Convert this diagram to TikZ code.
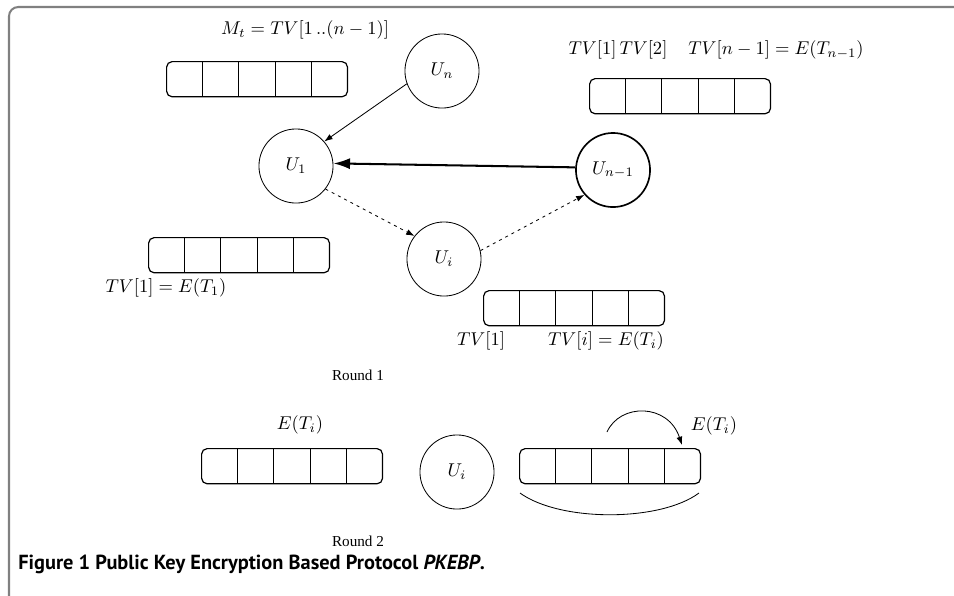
\documentclass[tikz,border=0pt]{standalone}
\usepackage{fontspec}
\newfontfamily\roundfont{Liberation Serif}
\newfontfamily\capfont{PT Sans}
\usetikzlibrary{arrows.meta,calc}
\tikzset{
  x=0.54pt, y=-0.54pt,
  frameline/.style={draw=black!50, line width=1.1pt, rounded corners=5pt},
  arrbox/.style={draw, rounded corners=3pt, line width=0.65pt, minimum width=97.7pt, minimum height=19pt, inner sep=0pt},
  arrsep/.style={line width=0.65pt},
  user/.style={draw, circle, line width=0.45pt, minimum size=40pt, inner sep=0pt, font=\normalsize},
  lbl/.style={inner sep=0pt, font=\normalsize},
  roundlbl/.style={inner sep=0pt, font=\roundfont\fontsize{8.2}{9}\selectfont},
  thinarrow/.style={line width=0.45pt, -{Latex[length=4.5pt,width=3.2pt]}},
  dasharrow/.style={line width=0.45pt, dash pattern=on 1.6pt off 2.2pt, -{Latex[length=4.5pt,width=3.2pt]}},
  thickarrow/.style={line width=1.1pt, -{Latex[length=9pt,width=6pt]}},
  arcline/.style={line width=0.45pt},
}
\newcommand\tvarray[3]{%
  \node[arrbox, anchor=north west] (#1) at (#2,#3) {};
  \foreach \k in {1,...,4}
    \draw[arrsep] ($(#1.north west)!\k/5!(#1.north east)$) -- ($(#1.south west)!\k/5!(#1.south east)$);
}
\begin{document}
\begin{tikzpicture}
\useasboundingbox (0,0) rectangle (954,595);
% frame
\draw[frameline] (9,600) -- (9,7) -- (960,7);

% Round 1 arrays
\tvarray{A1}{166}{61}
\tvarray{A2}{589}{78}
\tvarray{A3}{148}{237}
\tvarray{A4}{483}{290}

% labels round 1
\node[lbl] (l1) at (305,30) {$M_t = TV[1\,..(n-1)]$};
\node[lbl] (l2) at (618,50) {$TV[1]\,TV[2]$};
\node[lbl] (l3) at (776,50) {$TV[n-1] = E(T_{n-1})$};
\node[lbl] (l4) at (166,288) {$TV[1] = E(T_1)$};
\node[lbl] (l5) at (481,341) {$TV[1]$};
\node[lbl] (l6) at (606,341) {$TV[i] = E(T_i)$};

% users
\node[user] (Un) at (442,71) {$U_n$};
\node[user] (U1) at (296,166) {$U_1$};
\node[user, line width=0.9pt] (Un1) at (613,170) {$U_{n-1}$};
\node[user] (Ui) at (444,259) {$U_i$};

% connectors
\draw[thinarrow] (Un.200) -- (U1.41);
\draw[thickarrow] (Un1.176) -- (U1.4);
\draw[dasharrow] (U1.-38) -- (Ui.142);
\draw[dasharrow] (Ui.13) -- (Un1.221);

\node[roundlbl] (r1) at (358,375) {Round 1};

% Round 2
\tvarray{B1}{201}{448}
\tvarray{B2}{519}{448}
\node[user] (Ui2) at (457,472) {$U_i$};
\node[lbl] (e1) at (300,425) {$E(T_i)$};
\node[lbl] (e2) at (714,426) {$E(T_i)$};

\coordinate (ta) at (607,432);
\coordinate (tb) at (682,445);
\draw[arcline, -{Latex[length=4.5pt,width=3.2pt]}] (ta) .. controls (620,403) and (668,403) .. (tb);
\coordinate (ba) at (520,493);
\coordinate (bb) at (699,493);
\draw[arcline] (ba) .. controls (560,522) and (660,522) .. (bb);

\node[roundlbl] (r2) at (358,541) {Round 2};

\node[anchor=west, inner sep=0pt, font=\capfont\bfseries\fontsize{11}{13}\selectfont] (cap) at (18,564)
  {Figure 1 Public Key Encryption Based Protocol \textit{PKEBP}.};
\end{tikzpicture}
\end{document}
